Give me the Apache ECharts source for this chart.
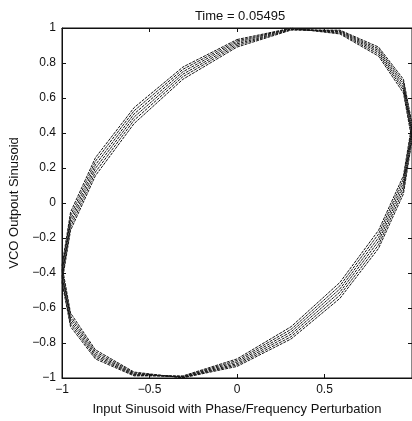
<!DOCTYPE html>
<html>
<head>
<meta charset="utf-8">
<script src="https://cdn.jsdelivr.net/npm/echarts@6/dist/echarts.min.js"></script>
<style>
  html, body { margin: 0; padding: 0; background: #ffffff; }
  #chart { width: 412px; height: 421px; }
</style>
</head>
<body>
<div id="chart"></div>
<script>
// Input sinusoid samples (x) shared by all traces, one full cycle
const inputX = [0, 0.309, 0.588, 0.809, 0.951, 1, 0.951, 0.809, 0.588, 0.309, 0,
  -0.309, -0.588, -0.809, -0.951, -1, -0.951, -0.809, -0.588, -0.309, 0];

// VCO output samples (y) for successive traces
const vcoA = [0.891, 0.988, 0.988, 0.891, 0.707, 0.454, 0.156, -0.156, -0.454, -0.707, -0.891,
  -0.988, -0.988, -0.891, -0.707, -0.454, -0.156, 0.156, 0.454, 0.707, 0.891];
const vcoB = [0.900, 0.991, 0.984, 0.881, 0.692, 0.435, 0.136, -0.177, -0.473, -0.722, -0.900,
  -0.991, -0.984, -0.881, -0.692, -0.435, -0.136, 0.177, 0.473, 0.722, 0.900];
const vcoC = [0.909, 0.993, 0.980, 0.871, 0.677, 0.416, 0.115, -0.198, -0.491, -0.736, -0.909,
  -0.993, -0.980, -0.871, -0.677, -0.416, -0.115, 0.198, 0.491, 0.736, 0.909];
const vcoD = [0.918, 0.996, 0.976, 0.861, 0.661, 0.397, 0.094, -0.218, -0.509, -0.750, -0.918,
  -0.996, -0.976, -0.861, -0.661, -0.397, -0.094, 0.218, 0.509, 0.750, 0.918];
const vcoE = [0.926, 0.997, 0.971, 0.850, 0.646, 0.378, 0.073, -0.239, -0.527, -0.764, -0.926,
  -0.997, -0.971, -0.850, -0.646, -0.378, -0.073, 0.239, 0.527, 0.764, 0.926];
const vcoF = [0.934, 0.999, 0.966, 0.839, 0.629, 0.358, 0.052, -0.259, -0.545, -0.777, -0.934,
  -0.999, -0.966, -0.839, -0.629, -0.358, -0.052, 0.259, 0.545, 0.777, 0.934];

const traces = [vcoA, vcoB, vcoC, vcoD, vcoE, vcoF];

// Axis ranges and tick steps
const xRange = [-1, 1], xStep = 0.5;
const yRange = [-1, 1], yStep = 0.2;

const titleText = 'Time = 0.05495';
const xName = 'Input Sinusoid with Phase/Frequency Perturbation';
const yName = 'VCO Outpout Sinusoid';

const FONT = '"Liberation Sans", Arial, sans-serif';
const INK = '#111';

function fmt(v) {
  const r = Math.round(v * 10) / 10;
  const s = String(Math.abs(r));
  return r < 0 ? '\u2212' + s : s;
}

const chart = echarts.init(document.getElementById('chart'), null, { renderer: 'canvas' });

const baseTick = { show: true, inside: true, length: 4, lineStyle: { color: INK, width: 1 } };

chart.setOption({
  animation: false,
  backgroundColor: '#ffffff',
  title: {
    text: titleText,
    left: 235, top: 5, textAlign: 'center',
    textStyle: { fontFamily: FONT, fontSize: 13, fontWeight: 'normal', color: INK }
  },
  grid: {
    left: 57, top: 28, width: 356, height: 354,
    show: true, borderColor: INK, borderWidth: 1, backgroundColor: 'transparent'
  },
  xAxis: [{
    type: 'value', min: xRange[0], max: xRange[1], interval: xStep,
    position: 'bottom',
    name: xName, nameLocation: 'middle', nameGap: 25,
    nameTextStyle: { fontFamily: FONT, fontSize: 13, color: INK },
    axisLine: { show: true, onZero: false, lineStyle: { color: INK, width: 1 } },
    axisTick: baseTick,
    splitLine: { show: false },
    axisLabel: { fontFamily: FONT, fontSize: 12, color: INK, margin: 6, formatter: fmt, showMaxLabel: false }
  }, {
    type: 'value', min: xRange[0], max: xRange[1], interval: xStep,
    position: 'top',
    axisLine: { show: true, onZero: false, lineStyle: { color: INK, width: 1 } },
    axisTick: baseTick,
    splitLine: { show: false },
    axisLabel: { show: false }
  }],
  yAxis: [{
    type: 'value', min: yRange[0], max: yRange[1], interval: yStep,
    position: 'left',
    name: yName, nameLocation: 'middle', nameGap: 41, nameRotate: 90,
    nameTextStyle: { fontFamily: FONT, fontSize: 13, color: INK },
    axisLine: { show: true, onZero: false, lineStyle: { color: INK, width: 1 } },
    axisTick: baseTick,
    splitLine: { show: false },
    axisLabel: { fontFamily: FONT, fontSize: 12, color: INK, margin: 6, formatter: fmt }
  }, {
    type: 'value', min: yRange[0], max: yRange[1], interval: yStep,
    position: 'right',
    axisLine: { show: true, onZero: false, lineStyle: { color: INK, width: 1 } },
    axisTick: baseTick,
    splitLine: { show: false },
    axisLabel: { show: false }
  }],
  series: traces.map(function (ys, i) {
    return {
      type: 'line',
      name: 'trace' + (i + 1),
      xAxisIndex: 0, yAxisIndex: 0,
      data: inputX.map(function (x, k) { return [x, ys[k]]; }),
      showSymbol: false,
      smooth: false,
      clip: false,
      lineStyle: { color: '#151515', width: 1, type: [3, 1] },
      emphasis: { disabled: true }
    };
  })
});
</script>
</body>
</html>
